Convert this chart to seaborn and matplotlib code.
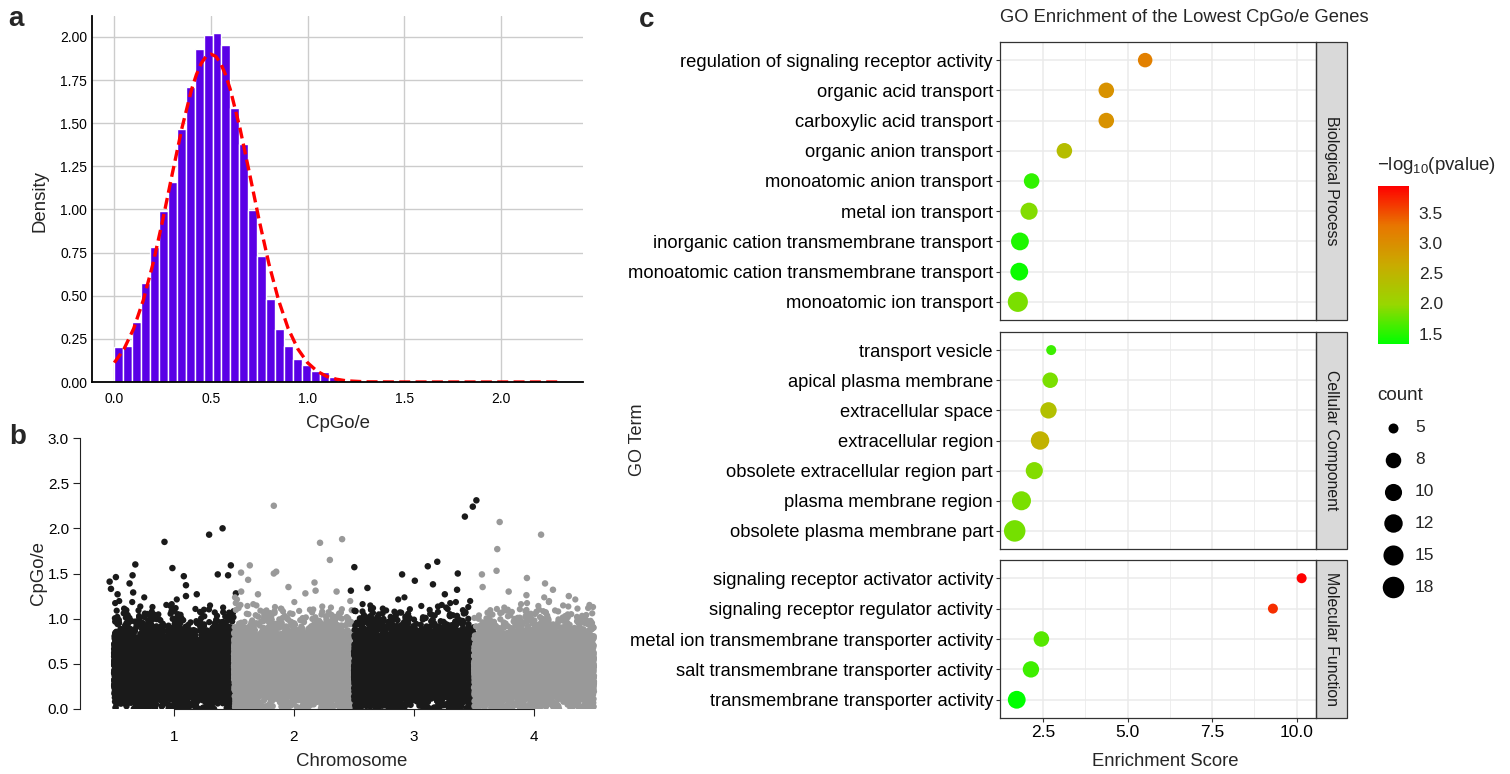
import numpy as np
import pandas as pd
import matplotlib
matplotlib.use("Agg")
import matplotlib.pyplot as plt
import seaborn as sns
from matplotlib.colors import LinearSegmentedColormap, Normalize
from matplotlib.cm import ScalarMappable
from matplotlib.patches import Rectangle

# ---------------- data ----------------
# a: density histogram of CpGo/e (50 bins between min and max)
cpg_min = 0.0
cpg_max = 2.31
density = [0.20, 0.21, 0.345, 0.574, 0.785, 0.99, 1.16, 1.467, 1.707, 1.928,
           2.01, 2.02, 1.953, 1.59, 1.38, 0.994, 0.73, 0.483, 0.31, 0.207,
           0.136, 0.10, 0.066, 0.058, 0.028, 0.012, 0.006, 0.004, 0.003, 0.002,
           0.002, 0.001, 0.001, 0.001, 0.0, 0.001, 0.0, 0.001, 0.0, 0.0,
           0.001, 0.0, 0.0, 0.0, 0.001, 0.0, 0.0, 0.0, 0.0, 0.001]
# fitted normal curve
fit_x = [0.0, 0.05, 0.10, 0.15, 0.20, 0.25, 0.30, 0.35, 0.40, 0.425, 0.45, 0.475,
         0.50, 0.525, 0.55, 0.575, 0.60, 0.65, 0.70, 0.75, 0.80, 0.85, 0.90, 0.95,
         1.00, 1.05, 1.10, 1.15, 1.20, 1.30, 1.50, 2.30]
fit_y = [0.112, 0.191, 0.309, 0.474, 0.685, 0.935, 1.207, 1.472, 1.696, 1.782, 1.847, 1.887,
         1.90, 1.887, 1.847, 1.782, 1.696, 1.472, 1.207, 0.935, 0.685, 0.474, 0.309, 0.191,
         0.112, 0.062, 0.032, 0.016, 0.007, 0.001, 0.0, 0.0]

# b: genes per chromosome (band drawn from the histogram above) + outlying genes
chromosomes = [1, 2, 3, 4]
genes_per_chr = [6500, 6500, 6500, 6500]
band_bins = 27  # bins up to ~1.25, higher values listed below
out_chr = [1, 1, 1, 1, 1, 1, 1, 1, 1, 1, 1, 1, 1, 1, 1, 1, 1, 1, 1, 1,
           2, 2, 2, 2, 2, 2, 2, 2, 2, 2, 2, 2, 2, 2, 2, 2,
           3, 3, 3, 3, 3, 3, 3, 3, 3, 3, 3, 3, 3, 3,
           4, 4, 4, 4, 4, 4, 4, 4, 4, 4, 4, 4]
out_pos = [0.464, 0.475, 0.516, 0.53, 0.63, 0.655, 0.678, 0.66, 0.921, 0.987,
           1.082, 1.10, 1.19, 1.293, 1.405, 1.365, 1.474, 1.451, 1.516, 1.10,
           1.559, 1.632, 1.618, 1.832, 1.852, 1.832, 1.954, 2.095, 2.171, 2.217,
           2.299, 2.401, 2.355, 2.18, 1.56, 1.70,
           2.503, 2.474, 2.612, 2.901, 3.007, 3.115, 3.194, 3.158, 3.365, 3.359,
           3.424, 3.49, 3.52, 3.257,
           3.566, 3.572, 3.688, 3.694, 3.714, 3.789, 3.941, 3.937, 4.059, 4.092,
           4.158, 4.29]
out_val = [1.41, 1.33, 1.46, 1.27, 1.39, 1.48, 1.60, 1.29, 1.85, 1.56,
           1.47, 1.37, 1.27, 1.93, 2.00, 1.49, 1.59, 1.48, 1.28, 1.25,
           1.51, 1.59, 1.43, 1.50, 1.52, 2.25, 1.35, 1.28, 1.40, 1.84,
           1.65, 1.88, 1.30, 1.31, 1.30, 1.27,
           1.57, 1.31, 1.34, 1.49, 1.42, 1.58, 1.63, 1.38, 1.50, 1.32,
           2.13, 2.24, 2.31, 1.27,
           1.49, 1.35, 1.53, 1.77, 2.07, 1.30, 1.45, 1.26, 1.93, 1.39,
           1.32, 1.25]

# c: GO enrichment
ontologies = ["Biological Process", "Cellular Component", "Molecular Function"]
bp_terms = ["regulation of signaling receptor activity", "organic acid transport",
            "carboxylic acid transport", "organic anion transport",
            "monoatomic anion transport", "metal ion transport",
            "inorganic cation transmembrane transport",
            "monoatomic cation transmembrane transport", "monoatomic ion transport"]
bp_score = [5.52, 4.37, 4.37, 3.13, 2.16, 2.085, 1.815, 1.795, 1.753]
bp_logp = [3.16, 2.95, 2.95, 2.37, 1.54, 1.90, 1.46, 1.38, 1.85]
bp_count = [7, 8, 8, 8, 8, 10, 11, 11, 15]
cc_terms = ["transport vesicle", "apical plasma membrane", "extracellular space",
            "extracellular region", "obsolete extracellular region part",
            "plasma membrane region", "obsolete plasma membrane part"]
cc_score = [2.74, 2.71, 2.66, 2.41, 2.24, 1.86, 1.66]
cc_logp = [1.59, 1.85, 2.32, 2.53, 1.90, 1.85, 1.83]
cc_count = [5, 8, 9, 12, 10, 13, 18]
mf_terms = ["signaling receptor activator activity", "signaling receptor regulator activity",
            "metal ion transmembrane transporter activity",
            "salt transmembrane transporter activity", "transmembrane transporter activity"]
mf_score = [10.15, 9.30, 2.45, 2.14, 1.72]
mf_logp = [3.94, 3.68, 1.70, 1.60, 1.33]
mf_count = [5, 5, 8, 9, 11]
count_breaks = [5, 8, 10, 12, 15, 18]
logp_ticks = [1.5, 2.0, 2.5, 3.0, 3.5]

# ---------------- setup ----------------
W, H = 1510, 774
sns.set_theme(style="whitegrid")
plt.rcParams["font.family"] = ["Liberation Sans", "DejaVu Sans"]
plt.rcParams["mathtext.fontset"] = "custom"
plt.rcParams["mathtext.rm"] = "Liberation Sans"
plt.rcParams["mathtext.it"] = "Liberation Sans"

fig = plt.figure(figsize=(W / 100, H / 100), dpi=100)


def box(l, t, r, b):
    return [l / W, 1 - b / H, (r - l) / W, (b - t) / H]


def fx(x):
    return x / W


def fy(y):
    return 1 - y / H


# ---------------- a ----------------
edges = np.linspace(cpg_min, cpg_max, len(density) + 1)
df_hist = pd.DataFrame({"cpg": (edges[:-1] + edges[1:]) / 2, "dens": density})
ax_a = fig.add_axes(box(92, 16, 583, 382))
sns.histplot(data=df_hist, x="cpg", weights="dens", bins=list(edges), color="#5A00E6",
             alpha=1, edgecolor="white", linewidth=1, ax=ax_a)
sns.lineplot(x=fit_x, y=fit_y, color="red", lw=2.4, ls=(0, (3.3, 1.6)), ax=ax_a)
ax_a.set_xticks([0.0, 0.5, 1.0, 1.5, 2.0])
ax_a.set_xticklabels(["0.0", "0.5", "1.0", "1.5", "2.0"])
ax_a.set_yticks(np.arange(0, 2.01, 0.25))
ax_a.set_yticklabels([f"{v:.2f}" for v in np.arange(0, 2.01, 0.25)])
ax_a.tick_params(axis="x", length=0, labelsize=10, colors="black", pad=7.5)
ax_a.tick_params(axis="y", length=0, labelsize=10, colors="black", pad=3.5)
ax_a.set_xlabel("")
ax_a.set_ylabel("")
ax_a.grid(color="#cccccc", lw=1)
for s in ["top", "right"]:
    ax_a.spines[s].set_visible(False)
for s in ["left", "bottom"]:
    ax_a.spines[s].set_color("black")
    ax_a.spines[s].set_linewidth(1.3)
fig.text(fx(40), fy(201), "Density", rotation=90, fontsize=13.4, ha="center", va="center")
fig.text(fx(338), fy(424), "CpGo/e", fontsize=13.4, ha="center", va="center")

# ---------------- b ----------------
band_vals, band_chr = [], []
width = edges[1] - edges[0]
for c, n in zip(chromosomes, genes_per_chr):
    for k in range(band_bins):
        cnt = int(round(density[k] * width * n))
        vals = edges[k] + width * (np.arange(cnt) + 0.5) / max(cnt, 1)
        band_vals.extend(vals)
        band_chr.extend([c] * cnt)
df_band = pd.DataFrame({"chr": band_chr, "CpGo/e": band_vals})
df_band["grp"] = df_band["chr"].astype(str)
df_out = pd.DataFrame({"chr": out_chr, "pos": out_pos, "CpGo/e": out_val})
df_out["grp"] = df_out["chr"].astype(str)
chr_pal = {"1": "#1a1a1a", "2": "#999999", "3": "#1a1a1a", "4": "#999999"}

ax_b = fig.add_axes(box(80, 438, 600, 709))
sns.stripplot(data=df_band, x="chr", y="CpGo/e", hue="grp", palette=chr_pal,
              native_scale=True, jitter=0.5, size=4.5, linewidth=0, legend=False, ax=ax_b)
sns.scatterplot(data=df_out, x="pos", y="CpGo/e", hue="grp", palette=chr_pal,
                s=22, linewidth=0, legend=False, ax=ax_b)
ax_b.set_facecolor("white")
ax_b.grid(False)
ax_b.set_xlim(0.217, 4.55)
ax_b.set_ylim(0, 3)
ax_b.set_xticks(chromosomes)
ax_b.set_xticklabels([str(c) for c in chromosomes])
ax_b.set_yticks([0, 0.5, 1.0, 1.5, 2.0, 2.5, 3.0])
ax_b.set_yticklabels(["0.0", "0.5", "1.0", "1.5", "2.0", "2.5", "3.0"])
ax_b.tick_params(bottom=True, left=True, direction="out", length=5, width=0.8,
                 color="#222222", labelsize=11, labelcolor="black")
ax_b.tick_params(axis="x", pad=10)
ax_b.tick_params(axis="y", pad=3)
ax_b.set_xlabel("")
ax_b.set_ylabel("")
for s in ["top", "right"]:
    ax_b.spines[s].set_visible(False)
ax_b.spines["left"].set_bounds(0, 3)
ax_b.spines["bottom"].set_bounds(1, 4)
for s in ["left", "bottom"]:
    ax_b.spines[s].set_color("#222222")
    ax_b.spines[s].set_linewidth(0.8)
fig.text(fx(38), fy(573), "CpGo/e", rotation=90, fontsize=13.4, ha="center", va="center")
fig.text(fx(352), fy(762), "Chromosome", fontsize=13.4, ha="center", va="center")

# ---------------- c ----------------
cmap = LinearSegmentedColormap.from_list(
    "gr", [(0.0, "#00FF00"), (0.25, "#98D700"), (0.5, "#C9AB00"),
           (0.75, "#E87600"), (1.0, "#FF0000")])
pnorm = Normalize(1.33, 3.94)


def dot_area(c):
    d_px = 10 + 11.5 * np.sqrt(max(c - 5, 0) / 13)
    return (d_px * 0.72) ** 2


facets = [
    (bp_terms, bp_score, bp_logp, bp_count, (42, 320)),
    (cc_terms, cc_score, cc_logp, cc_count, (332, 549)),
    (mf_terms, mf_score, mf_logp, mf_count, (560, 718)),
]
p_left, p_right, strip_w = 1000, 1316, 31
for i, (terms, score, logp, count, (top, bot)) in enumerate(facets):
    ax = fig.add_axes(box(p_left, top, p_right, bot))
    df = pd.DataFrame({"term": terms, "score": score, "logp": logp, "count": count})
    size_map = {c: dot_area(c) for c in sorted(set(count))}
    sns.scatterplot(data=df, x="score", y="term", hue="logp", palette=cmap, hue_norm=pnorm,
                    size="count", sizes=size_map, linewidth=0, legend=False, ax=ax, zorder=3)
    n = len(terms)
    ax.set_yticks(range(n))
    ax.set_yticklabels(terms)
    ax.set_ylim(n - 1 + 0.6, -0.6)
    ax.set_xlim(1.225, 10.575)
    ax.set_xticks([2.5, 5.0, 7.5, 10.0])
    ax.set_xticks([3.75, 6.25, 8.75], minor=True)
    ax.set_facecolor("white")
    ax.grid(which="major", color="#EBEBEB", lw=1.1)
    ax.grid(which="minor", axis="x", color="#EBEBEB", lw=0.6)
    ax.set_axisbelow(True)
    ax.set_xlabel("")
    ax.set_ylabel("")
    for s in ax.spines.values():
        s.set_color("#333333")
        s.set_linewidth(0.9)
    ax.tick_params(axis="y", left=True, length=3, width=0.8, color="#333333",
                   labelsize=13.2, labelcolor="black", pad=2)
    if i == 2:
        ax.set_xticklabels(["2.5", "5.0", "7.5", "10.0"])
        ax.tick_params(axis="x", bottom=True, length=3, width=0.8, color="#333333",
                       labelsize=12.5, labelcolor="black", pad=2)
    else:
        ax.tick_params(axis="x", bottom=False, labelbottom=False)
    ax.tick_params(axis="x", which="minor", bottom=False)
    sw = strip_w / (p_right - p_left)
    ax.add_patch(Rectangle((1, 0), sw, 1, transform=ax.transAxes, clip_on=False,
                           facecolor="#D9D9D9", edgecolor="#333333", lw=0.9))
    ax.text(1 + sw / 2, 0.5, ontologies[i], transform=ax.transAxes, rotation=-90,
            ha="center", va="center", fontsize=11.4, color="#1a1a1a")

fig.text(fx(p_left), fy(17), "GO Enrichment of the Lowest CpGo/e Genes", fontsize=13.2,
         ha="left", va="center")
fig.text(fx(637), fy(440), "GO Term", rotation=90, fontsize=13, ha="center", va="center")
fig.text(fx(1165), fy(761), "Enrichment Score", fontsize=13.3, ha="center", va="center")

# colour bar
cax = fig.add_axes(box(1378, 186, 1409, 344))
cb = fig.colorbar(ScalarMappable(norm=pnorm, cmap=cmap), cax=cax, ticks=logp_ticks)
cb.outline.set_visible(False)
cax.tick_params(direction="in", length=6, width=0.8, color="white", left=True, right=True,
                labelsize=12.5, pad=7)
cax.set_yticklabels([f"{v:.1f}" for v in logp_ticks])
fig.text(fx(1377), fy(165), r"−log$_{10}$(pvalue)", fontsize=13.4, ha="left", va="center")

# size legend
fig.text(fx(1377), fy(395), "count", fontsize=13.5, ha="left", va="center")
lax = fig.add_axes(box(1370, 412, 1460, 603))
lax.set_axis_off()
lax.set_xlim(0, 1)
lax.set_ylim(len(count_breaks) - 0.5, -0.5)
for j, c in enumerate(count_breaks):
    lax.scatter([0.256], [j], s=dot_area(c), color="black", linewidth=0)
    lax.text(0.5, j, str(c), fontsize=12.5, ha="left", va="center")

# panel letters
fig.text(fx(16), fy(19), "a", fontsize=20, fontweight="bold", ha="center", va="center")
fig.text(fx(18), fy(437), "b", fontsize=20, fontweight="bold", ha="center", va="center")
fig.text(fx(647), fy(20), "c", fontsize=20, fontweight="bold", ha="center", va="center")

fig.savefig("out.png", dpi=100)
plt.close(fig)
